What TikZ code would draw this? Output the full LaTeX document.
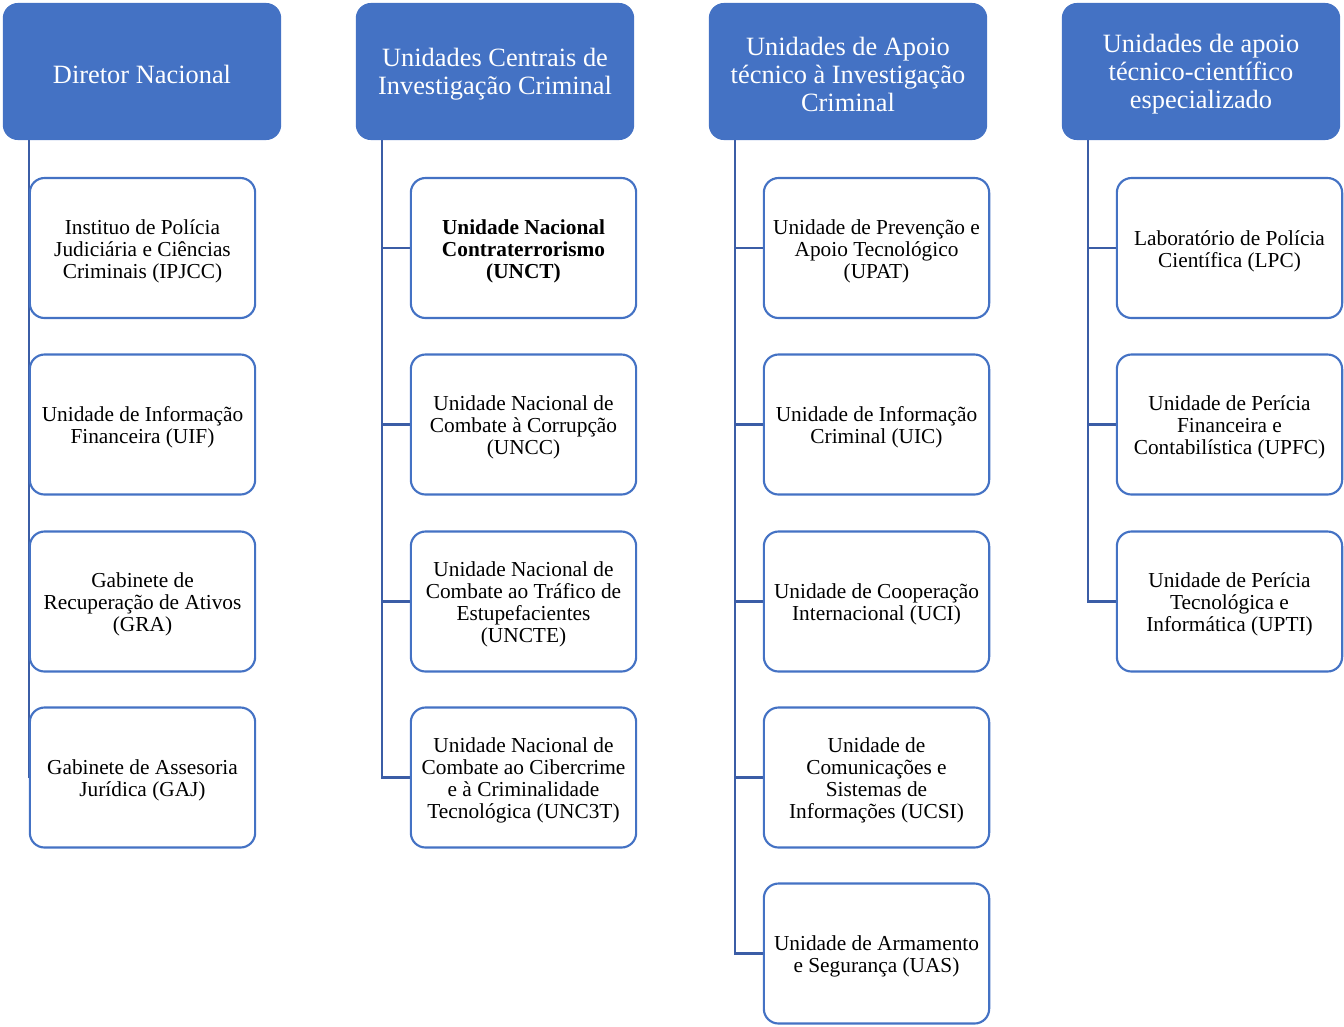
\documentclass[tikz,border=0pt]{standalone}
\usepackage{fontspec}
\setmainfont{Liberation Serif}
\usetikzlibrary{calc}
\pgfdeclarelayer{bg}
\pgfsetlayers{bg,main}
\definecolor{hdr}{HTML}{4472C4}
\definecolor{bx}{HTML}{4472C4}
\definecolor{conn}{HTML}{3B5DA6}
\tikzset{
  hdrbox/.style={rectangle, rounded corners=11pt, fill=hdr, draw=hdr, line width=0.8pt,
    minimum width=208pt, minimum height=102pt, inner sep=0pt, outer sep=0pt},
  hdrtext/.style={inner sep=0pt, text=white, align=center, font=\fontsize{19.8}{21}\selectfont},
  childbox/.style={rectangle, rounded corners=11pt, fill=white, draw=bx, line width=1.6pt,
    minimum width=169pt, minimum height=105pt, inner sep=0pt, outer sep=0pt},
  childtext/.style={inner sep=0pt, text=black, align=center, font=\fontsize{16}{16.5}\selectfont},
  conline/.style={draw=conn, line width=1.6pt}
}
\newcommand{\hbx}[3]{\node[hdrbox] (#1) at (#2) {};
  \node[hdrtext] (#1t) at ([yshift=-2pt]#1.center) {#3};}
\newcommand{\cbx}[3]{\node[childbox] (#1) at (#2) {};
  \node[childtext] (#1t) at ([yshift=-2.25pt]#1.center) {#3};}
\begin{document}
\begin{tikzpicture}[x=0.75pt,y=-0.75pt]
\useasboundingbox (0,0) rectangle (1344,1026);
% headers
\hbx{h1}{142,71.5}{Diretor Nacional}
\hbx{h2}{495,71.5}{Unidades Centrais de\\Investigação Criminal}
\hbx{h3}{848,71.5}{Unidades de Apoio\\técnico à Investigação\\Criminal}
\hbx{h4}{1201,71.5}{Unidades de apoio\\técnico-científico\\especializado}
% column 1
\cbx{a1}{142.5,248}{Instituo de Polícia\\Judiciária e Ciências\\Criminais (IPJCC)}
\cbx{a2}{142.5,424.5}{Unidade de Informação\\Financeira (UIF)}
\cbx{a3}{142.5,601.5}{Gabinete de\\Recuperação de Ativos\\(GRA)}
\cbx{a4}{142.5,777.5}{Gabinete de Assesoria\\Jurídica (GAJ)}
% column 2
\cbx{b1}{523.5,248}{\bfseries Unidade Nacional\\\bfseries Contraterrorismo\\\bfseries (UNCT)}
\cbx{b2}{523.5,424.5}{Unidade Nacional de\\Combate à Corrupção\\(UNCC)}
\cbx{b3}{523.5,601.5}{Unidade Nacional de\\Combate ao Tráfico de\\Estupefacientes\\(UNCTE)}
\cbx{b4}{523.5,777.5}{Unidade Nacional de\\Combate ao Cibercrime\\e à Criminalidade\\Tecnológica (UNC3T)}
% column 3
\cbx{c1}{876.5,248}{Unidade de Prevenção e\\Apoio Tecnológico\\(UPAT)}
\cbx{c2}{876.5,424.5}{Unidade de Informação\\Criminal (UIC)}
\cbx{c3}{876.5,601.5}{Unidade de Cooperação\\Internacional (UCI)}
\cbx{c4}{876.5,777.5}{Unidade de\\Comunicações e\\Sistemas de\\Informações (UCSI)}
\cbx{c5}{876.5,953.5}{Unidade de Armamento\\e Segurança (UAS)}
% column 4
\cbx{d1}{1229.5,248}{Laboratório de Polícia\\Científica (LPC)}
\cbx{d2}{1229.5,424.5}{Unidade de Perícia\\Financeira e\\Contabilística (UPFC)}
\cbx{d3}{1229.5,601.5}{Unidade de Perícia\\Tecnológica e\\Informática (UPTI)}
% connectors
\begin{pgfonlayer}{bg}
\coordinate (v1) at (29,0);
\coordinate (v2) at (382,0);
\coordinate (v3) at (735,0);
\coordinate (v4) at (1088,0);
\draw[conline] (h1.south -| v1) -- (a4.west -| v1);
\draw[conline] (h2.south -| v2) -- (b4.west -| v2) -- (b4.west);
\foreach \n in {b1,b2,b3} \draw[conline] (\n.west -| v2) -- (\n.west);
\draw[conline] (h3.south -| v3) -- (c5.west -| v3) -- (c5.west);
\foreach \n in {c1,c2,c3,c4} \draw[conline] (\n.west -| v3) -- (\n.west);
\draw[conline] (h4.south -| v4) -- (d3.west -| v4) -- (d3.west);
\foreach \n in {d1,d2} \draw[conline] (\n.west -| v4) -- (\n.west);
\end{pgfonlayer}
\end{tikzpicture}
\end{document}
